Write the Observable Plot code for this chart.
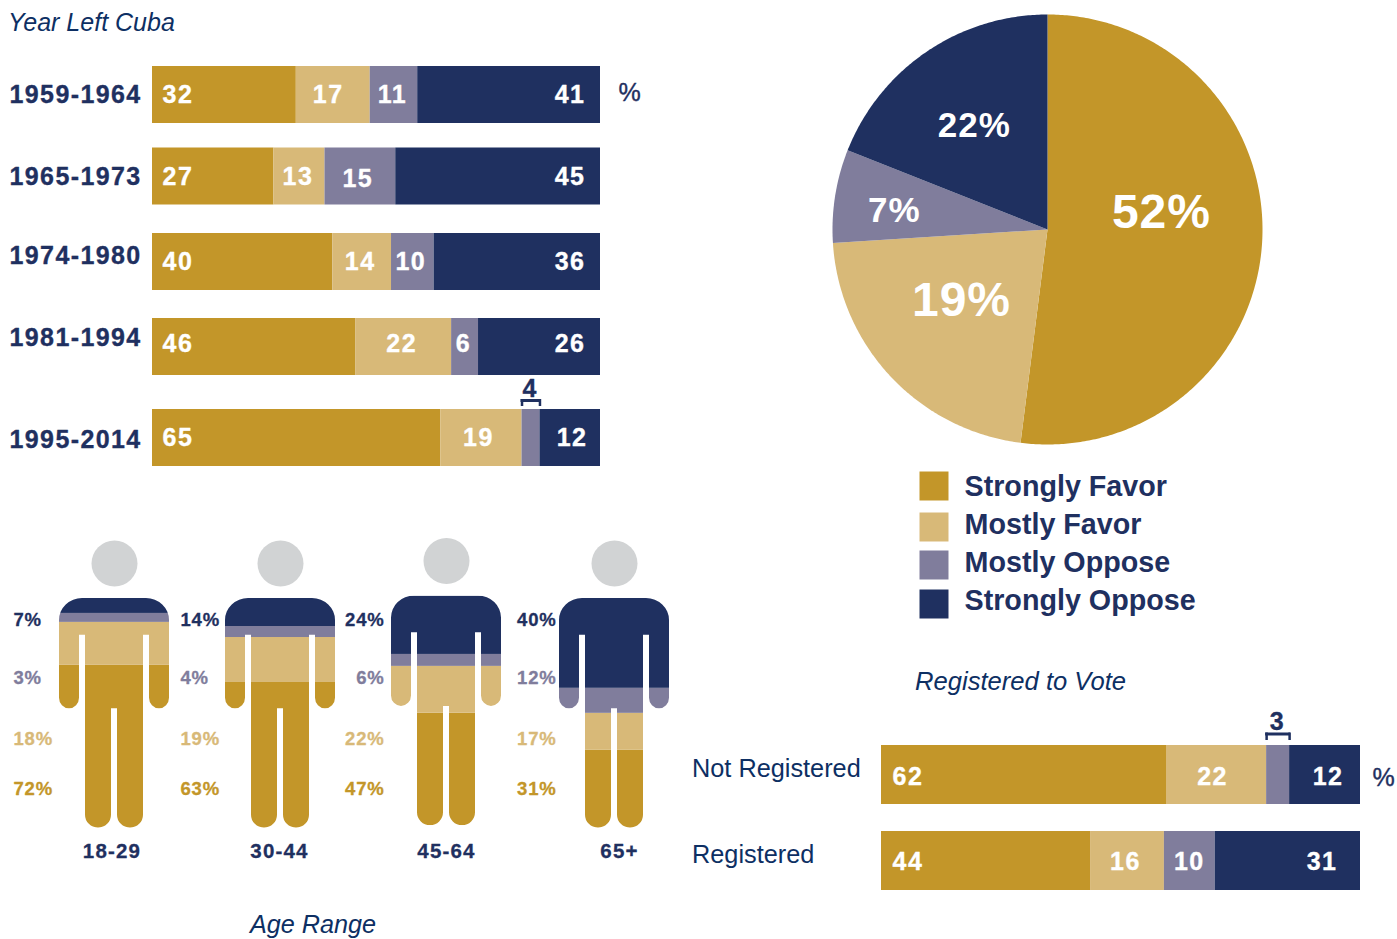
<!DOCTYPE html>
<html>
<head>
<meta charset="utf-8">
<script src="https://cdn.jsdelivr.net/npm/d3@7"></script>
<script src="https://cdn.jsdelivr.net/npm/@observablehq/plot@0.6"></script>
<style>
  html, body { margin: 0; padding: 0; background: #fff; }
  #page { position: relative; width: 1397px; height: 939px; overflow: hidden; font-family: "Liberation Sans", sans-serif; }
  .slot { position: absolute; }
  .head { position: absolute; font-style: italic; line-height: 30px; color: #0d2f63; white-space: nowrap; }
</style>
</head>
<body>
<div id="page"></div>
<script>
// ---------- data ----------
const opinions = ["Strongly Favor", "Mostly Favor", "Mostly Oppose", "Strongly Oppose"];
const opinionColors = ["#c39629", "#d8b978", "#807d9c", "#1f3060"];

// printed numbers
const yearRows = ["1959-1964", "1965-1973", "1974-1980", "1981-1994", "1995-2014"];
const yearStronglyFavor = [32, 27, 40, 46, 65];
const yearMostlyFavor = [17, 13, 14, 22, 19];
const yearMostlyOppose = [11, 15, 10, 6, 4];
const yearStronglyOppose = [41, 45, 36, 26, 12];
// bar lengths as the picture draws them
const yearDrawnStronglyFavor = [32.1, 27.1, 40.2, 45.3, 64.3];
const yearDrawnMostlyFavor = [16.5, 11.4, 13.1, 21.4, 18.1];
const yearDrawnMostlyOppose = [10.6, 15.8, 9.5, 6.0, 4.0];
const yearDrawnStronglyOppose = [40.8, 45.7, 37.1, 27.2, 13.5];

const voteRows = ["Not Registered", "Registered"];
const voteStronglyFavor = [62, 44];
const voteMostlyFavor = [22, 16];
const voteMostlyOppose = [3, 10];
const voteStronglyOppose = [12, 31];
const voteDrawnStronglyFavor = [59.5, 43.6];
const voteDrawnMostlyFavor = [20.9, 15.4];
const voteDrawnMostlyOppose = [4.8, 10.6];
const voteDrawnStronglyOppose = [14.8, 30.3];

const ageGroups = ["18-29", "30-44", "45-64", "65+"];
const ageStronglyFavor = [72, 63, 47, 31];
const ageMostlyFavor = [18, 19, 22, 17];
const ageMostlyOppose = [3, 4, 6, 12];
const ageStronglyOppose = [7, 14, 24, 40];
const ageDrawnStronglyFavor = [70.9, 63.5, 49, 33.9];
const ageDrawnMostlyFavor = [18.7, 19.6, 20.4, 16.1];
const ageDrawnMostlyOppose = [3.9, 4.8, 5.2, 10.9];
const ageDrawnStronglyOppose = [6.5, 12.2, 25.4, 39.1];

// wedge sizes as drawn, and the numbers printed on them
const pieWedges = [52, 22, 7, 19];
const pieLabels = ["52%", "19%", "7%", "22%"];

// ---------- layout ----------
const NAVY = "#1f3060", INK = "#0d2f63", HEADLESS = "#d1d3d4";
const FONT = "Liberation Sans";
const page = document.getElementById("page");
const color = {domain: opinions, range: opinionColors};
const rootStyle = {background: "transparent", overflow: "visible"};

function place(node, left, top) {
  const d = document.createElement("div");
  d.className = "slot";
  d.style.left = left + "px";
  d.style.top = top + "px";
  d.appendChild(node);
  page.appendChild(d);
}
function heading(text, left, top, size) {
  const d = document.createElement("div");
  d.className = "head";
  d.textContent = text;
  d.style.left = left + "px";
  d.style.top = top + "px";
  d.style.fontSize = size + "px";
  page.appendChild(d);
}
function spacing(px) {
  return (index, scales, values, dimensions, context, next) => {
    const g = next(index, scales, values, dimensions, context);
    g.style.letterSpacing = px + "px";
    return g;
  };
}
function flatten(rows, series, drawn) {
  const out = [];
  rows.forEach((row, i) => {
    const vals = drawn.map((s) => s[i]);
    const total = d3.sum(vals);
    let c = 0;
    vals.forEach((len, k) => {
      out.push({row, opinion: opinions[k], value: series[k][i], k, start: c / total, end: (c + len) / total, mid: (c + len / 2) / total});
      c += len;
    });
  });
  return out;
}

// stacked bar block
function barBlock({rows, series, drawn, left, top, width, height, xRange, yRange, paddingInner, barNudge, labelDx, labelNudge, valueNudge, startDx, endDx, favorDx, opposeDx, opposeDy, bandPx, labelStyle, bracket, percent}) {
  const data = flatten(rows, series, drawn);
  const marks = [];
  const white = {fill: "white", stroke: "white", strokeWidth: 0.35, fontFamily: FONT, fontWeight: "bold", fontSize: 25, render: spacing(1.5)};
  rows.forEach((row, i) => {
    const d = data.filter((r) => r.row === row);
    const dy = barNudge[i];
    const vy = dy + valueNudge[i];
    marks.push(
      Plot.barX(d, {x1: "start", x2: "end", y: "row", fill: "opinion", dy}),
      Plot.text(d, {frameAnchor: "left", y: "row", text: () => row, dx: labelDx, dy: labelNudge[i], textAnchor: "start",
        fill: labelStyle.fill, stroke: labelStyle.stroke, strokeWidth: 0.35, fontFamily: FONT, fontWeight: labelStyle.weight, fontSize: labelStyle.size, render: spacing(labelStyle.ls), filter: (r) => r.k === 0}),
      Plot.text(d, {x: () => 0, y: "row", text: (r) => r.k === 0 ? r.value : null, dx: startDx, dy: vy, textAnchor: "start", ...white}),
      Plot.text(d, {x: "mid", y: "row", text: (r) => r.k === 1 ? r.value : null, dx: favorDx[i], dy: vy, ...white}),
      Plot.text(d, {x: "mid", y: "row", text: (r) => r.k === 2 && r.value >= 5 ? r.value : null, dx: opposeDx[i], dy: vy + opposeDy[i], ...white}),
      Plot.text(d, {x: () => 1, y: "row", text: (r) => r.k === 3 ? r.value : null, dx: endDx[i], dy: vy, textAnchor: "end", ...white})
    );
    const small = d.filter((r) => r.value < 5);
    if (small.length) {
      marks.push(
        Plot.text(small, {x: "mid", y: "row", text: "value", dx: -1.5, dy: dy - bandPx / 2 - bracket.textGap, fill: NAVY, stroke: NAVY, strokeWidth: 0.35, fontFamily: FONT, fontWeight: "bold", fontSize: 25}),
        Plot.barX(small, {x1: "start", x2: "end", y: "row", fill: NAVY, dy, insetLeft: -1, insetRight: -1, insetTop: -bracket.top, insetBottom: bandPx + bracket.top - 3}),
        Plot.tickX(small, {x: "start", y: "row", stroke: NAVY, strokeWidth: 2.5, dy, insetTop: -bracket.top, insetBottom: bandPx + bracket.leg}),
        Plot.tickX(small, {x: "end", y: "row", stroke: NAVY, strokeWidth: 2.5, dy, insetTop: -bracket.top, insetBottom: bandPx + bracket.leg})
      );
    }
  });
  marks.push(Plot.text([rows[percent.row]], {x: () => 1, y: (d) => d, text: () => "%", dx: percent.dx, dy: percent.dy, textAnchor: "start",
    fill: NAVY, stroke: NAVY, strokeWidth: 0.4, fontFamily: FONT, fontSize: 25}));
  place(Plot.plot({
    width, height, margin: 0, style: rootStyle,
    x: {domain: [0, 1], range: xRange, axis: null},
    y: {domain: rows, range: yRange, paddingInner, paddingOuter: 0, round: false, axis: null},
    color, marks
  }), left, top);
}

barBlock({
  rows: yearRows,
  series: [yearStronglyFavor, yearMostlyFavor, yearMostlyOppose, yearStronglyOppose],
  drawn: [yearDrawnStronglyFavor, yearDrawnMostlyFavor, yearDrawnMostlyOppose, yearDrawnStronglyOppose],
  left: 0, top: 40, width: 660, height: 440,
  xRange: [152, 600], yRange: [26, 426], paddingInner: 0.3353, bandPx: 57,
  barNudge: [0, -4.25, -4.5, -5.25, 0],
  labelDx: 9, labelNudge: [0.5, -4, -11, -14, 2],
  valueNudge: [0, 0.5, 0, -3, 0],
  startDx: 10, endDx: [-15, -15, -15, -15, -13],
  favorDx: [-5, -1.5, -2, -2, -3], opposeDx: [-1.5, -2.5, -2, -1.5, 0], opposeDy: [0, 2, 0, 0, 0],
  labelStyle: {fill: NAVY, stroke: NAVY, weight: "bold", size: 25, ls: 1.4},
  bracket: {top: 10, leg: 3, textGap: 21},
  percent: {row: 0, dx: 18, dy: -2}
});

barBlock({
  rows: voteRows,
  series: [voteStronglyFavor, voteMostlyFavor, voteMostlyOppose, voteStronglyOppose],
  drawn: [voteDrawnStronglyFavor, voteDrawnMostlyFavor, voteDrawnMostlyOppose, voteDrawnStronglyOppose],
  left: 680, top: 700, width: 717, height: 200,
  xRange: [201, 680], yRange: [45, 190], paddingInner: 0.314, bandPx: 59,
  barNudge: [0, 0],
  labelDx: 11.5, labelNudge: [-6.5, -6.5],
  valueNudge: [2.5, 0.5],
  startDx: 11, endDx: [-17, -23],
  favorDx: [-4, -2], opposeDx: [0, -0.5], opposeDy: [0, 0],
  labelStyle: {fill: INK, stroke: "none", weight: "normal", size: 25.3, ls: 0},
  bracket: {top: 12.5, leg: 5, textGap: 23},
  percent: {row: 0, dx: 12, dy: 3.5}
});

// ---------- pie ----------
const pieData = d3.pie().sort(null)(pieWedges).map((a, i) => ({opinion: opinions[i], a}));
const pieOutline = pieData.flatMap(({opinion, a}) => {
  const n = Math.ceil((a.endAngle - a.startAngle) / 0.01);
  const pts = [{opinion, x: 0, y: 0}];
  for (let j = 0; j <= n; ++j) {
    const t = a.startAngle + (a.endAngle - a.startAngle) * j / n;
    pts.push({opinion, x: Math.sin(t), y: Math.cos(t)});
  }
  pts.push({opinion, x: 0, y: 0});
  return pts;
});
const pieTextAt = [[0.53, 0.079], [-0.40, -0.33], [-0.712, 0.088], [-0.34, 0.484]];
const pieTextSize = [48, 48, 35, 35];
place(Plot.plot({
  width: 430, height: 430, margin: 0, style: rootStyle,
  x: {domain: [-1, 1], range: [0, 430], axis: null},
  y: {domain: [-1, 1], range: [430, 0], axis: null},
  color,
  marks: [
    Plot.line(pieOutline, {x: "x", y: "y", z: "opinion", fill: "opinion", stroke: "none"}),
    ...pieLabels.map((t, i) => Plot.text([t], {
      x: () => pieTextAt[i][0], y: () => pieTextAt[i][1], text: (d) => d,
      fill: "white", fontFamily: FONT, fontWeight: "bold", fontSize: pieTextSize[i], render: spacing(1)
    }))
  ]
}), 831.5, 14);

// ---------- legend ----------
const legendSquareNudge = [-0.5, 2.5, 2.5, 3.5];
place(Plot.plot({
  width: 300, height: 147, margin: 0, style: rootStyle,
  x: {domain: [0, 1], range: [0, 300], axis: null},
  y: {type: "point", domain: opinions, range: [15, 129], padding: 0, axis: null},
  color,
  marks: [
    ...opinions.map((o, i) => Plot.dot([o], {frameAnchor: "left", y: (d) => d, dx: 14.5, dy: legendSquareNudge[i], symbol: "square", r: 16.36, fill: (d) => d})),
    Plot.text(opinions, {frameAnchor: "left", y: (d) => d, text: (d) => d, dx: 45, textAnchor: "start",
      fill: NAVY, fontFamily: FONT, fontWeight: "bold", fontSize: 28.7})
  ]
}), 919, 471);

// ---------- people ----------
const figureCentres = [114, 280, 446.3, 614];
const figureNudge = [0, 0, -2.4, 0];
const figureLabelAnchor = ["start", "start", "end", "end"];
const figureLabelDx = [-101, -100, -62, -58];
const ageLabelDx = [-2.5, -1, 0, 5];
const labelRowDy = [191, 141, 80, 22]; // strongly favor .. strongly oppose, below the shoulders
function bodyPath(sx, top, bottom) {
  const k = (bottom - top) / 230;
  const X = (v) => sx(v), Y = (v) => top + v * k;
  const a = (rx, ry, x, y) => `A${X(rx) - X(0)} ${ry * k} 0 0 1 ${X(x)} ${Y(y)}`;
  return [
    `M${X(-32)} ${Y(0)}`, `L${X(32)} ${Y(0)}`, a(23, 22, 55, 22),
    `L${X(55)} ${Y(100)}`, a(10, 10.5, 35, 100),
    `L${X(35)} ${Y(36.7)}`, `L${X(29)} ${Y(36.7)}`, `L${X(29)} ${Y(217)}`, a(13, 13, 3, 217),
    `L${X(3)} ${Y(110.5)}`, `L${X(-3)} ${Y(110.5)}`, `L${X(-3)} ${Y(217)}`, a(13, 13, -29, 217),
    `L${X(-29)} ${Y(36.7)}`, `L${X(-35)} ${Y(36.7)}`, `L${X(-35)} ${Y(100)}`, a(10, 10.5, -55, 100),
    `L${X(-55)} ${Y(22)}`, a(23, 22, -32, 0), "Z"
  ].join("");
}
const ageSeries = [ageStronglyFavor, ageMostlyFavor, ageMostlyOppose, ageStronglyOppose];
const ageDrawn = [ageDrawnStronglyFavor, ageDrawnMostlyFavor, ageDrawnMostlyOppose, ageDrawnStronglyOppose];
ageGroups.forEach((age, i) => {
  const bands = flatten([age], ageSeries.map((s) => [s[i]]), ageDrawn.map((s) => [s[i]]));
  const id = "body-" + i;
  const clipBody = (index, scales, values, dimensions, context, next) => {
    const g = next(index, scales, values, dimensions, context);
    const cp = document.createElementNS("http://www.w3.org/2000/svg", "clipPath");
    cp.setAttribute("id", id);
    const p = document.createElementNS("http://www.w3.org/2000/svg", "path");
    p.setAttribute("d", bodyPath(scales.x, scales.y(1), scales.y(0)));
    cp.appendChild(p);
    g.appendChild(cp);
    g.setAttribute("clip-path", `url(#${id})`);
    return g;
  };
  place(Plot.plot({
    width: 220, height: 330, margin: 0, marginTop: 63, style: rootStyle,
    x: {domain: [-110, 110], range: [0, 220], axis: null},
    y: {domain: [0, 1], range: [292.67, 63], axis: null},
    color,
    marks: [
      Plot.dot([age], {frameAnchor: "top", x: () => 0, dy: -35 + figureNudge[i], r: 23, fill: HEADLESS}),
      Plot.rect(bands, {x1: () => -60, x2: () => 60, y1: "start", y2: "end", fill: "opinion", dy: figureNudge[i], render: clipBody}),
      ...bands.map((b, k) => Plot.text([b], {
        frameAnchor: "top", lineAnchor: "middle", x: () => 0, text: (d) => d.value + "%", dx: figureLabelDx[i], dy: labelRowDy[k], textAnchor: figureLabelAnchor[i],
        fill: "opinion", stroke: "opinion", strokeWidth: 0.3, fontFamily: FONT, fontWeight: "bold", fontSize: 18.5, render: spacing(0.8)
      })),
      Plot.text([age], {frameAnchor: "top", lineAnchor: "middle", x: () => 0, text: (d) => d, dx: ageLabelDx[i], dy: 253, fill: NAVY, stroke: NAVY, strokeWidth: 0.3,
        fontFamily: FONT, fontWeight: "bold", fontSize: 20.5, render: spacing(1.2)})
    ]
  }), figureCentres[i] - 110, 535);
});

// ---------- headings ----------
heading("Year Left Cuba", 8, 7, 25);
heading("Registered to Vote", 915, 666, 25.6);
heading("Age Range", 250, 909, 25.2);
</script>
</body>
</html>
